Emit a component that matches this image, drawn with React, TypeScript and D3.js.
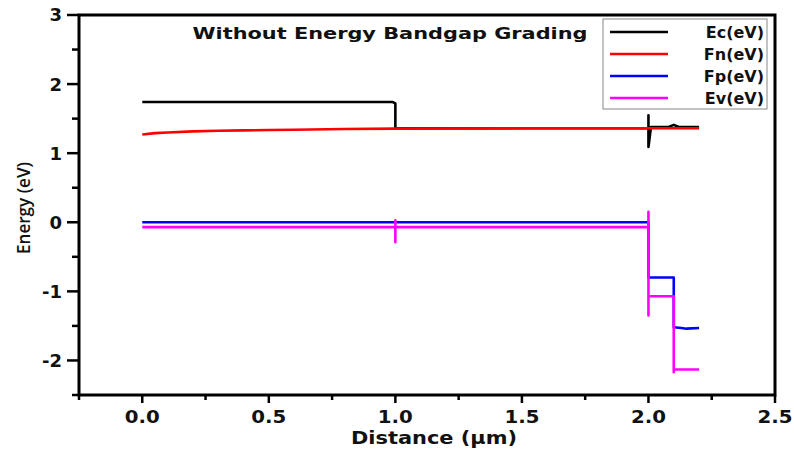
import React from "react";
import * as d3 from "d3";

const ecX = [0, 0.99, 1.0, 1.0, 1.005, 1.99, 2.0, 2.0, 2.0, 2.01, 2.08, 2.1, 2.12, 2.2];
const ecY = [1.74, 1.74, 1.72, 1.36, 1.36, 1.36, 1.36, 1.55, 1.09, 1.38, 1.38, 1.41, 1.38, 1.38];

const fnX = [0, 0.05, 0.1, 0.2, 0.3, 0.4, 0.5, 0.6, 0.8, 1.0, 1.5, 2.0, 2.2];
const fnY = [1.27, 1.29, 1.3, 1.315, 1.325, 1.33, 1.335, 1.34, 1.35, 1.355, 1.36, 1.36, 1.36];

const fpX = [0, 2.0, 2.0, 2.1, 2.1, 2.13, 2.15, 2.2];
const fpY = [0, 0, -0.8, -0.8, -1.52, -1.53, -1.54, -1.53];

const evX = [0, 1.0, 1.0, 1.0, 1.0, 2.0, 2.0, 2.0, 2.0, 2.1, 2.1, 2.1, 2.2];
const evY = [-0.07, -0.07, 0.03, -0.29, -0.07, -0.07, 0.15, -1.35, -1.07, -1.07, -2.17, -2.13, -2.13];

const seriesNames = ["Ec(eV)", "Fn(eV)", "Fp(eV)", "Ev(eV)"];
const seriesColors = ["#000000", "#ff0000", "#0000ff", "#ff00ff"];

const xMajorTicks = [0, 0.5, 1.0, 1.5, 2.0, 2.5];
const xMinorTicks = [-0.25, 0.25, 0.75, 1.25, 1.75, 2.25];
const yMajorTicks = [3, 2, 1, 0, -1, -2];
const yMinorTicks = [2.5, 1.5, 0.5, -0.5, -1.5, -2.5];

const titleText = "Without Energy Bandgap Grading";
const xLabel = "Distance (\u03bcm)";
const yLabel = "Energy (eV)";

export default function App() {
  const W = 794, H = 454;
  const L = 79, R = 775, T = 15, B = 395;
  const x = d3.scaleLinear().domain([-0.25, 2.5]).range([L, R]);
  const y = d3.scaleLinear().domain([-2.5, 3]).range([B, T]);
  const line = d3.line<[number, number]>().x(d => x(d[0])).y(d => y(d[1]));
  const series = [
    ecX.map((v, i) => [v, ecY[i]] as [number, number]),
    fnX.map((v, i) => [v, fnY[i]] as [number, number]),
    fpX.map((v, i) => [v, fpY[i]] as [number, number]),
    evX.map((v, i) => [v, evY[i]] as [number, number]),
  ];
  const fmt = d3.format(".1f");
  const font = "'DejaVu Sans', sans-serif";
  return (
    <svg width={W} height={H} style={{ position: "absolute", left: 0, top: 0, background: "#fff" }}>
      <rect x={0} y={0} width={W} height={H} fill="#fff" />
      {series.map((s, i) => (
        <path key={i} d={line(s) || ""} fill="none" stroke={seriesColors[i]} strokeWidth={2.6} strokeLinejoin="round" />
      ))}
      {/* frame */}
      <rect x={L} y={T} width={R - L} height={B - T} fill="none" stroke="#000" strokeWidth={3} />
      {/* y ticks */}
      {yMajorTicks.map(t => (
        <g key={"ym" + t}>
          <line x1={L - 12} x2={L} y1={y(t)} y2={y(t)} stroke="#000" strokeWidth={2.5} />
          <text x={L - 17} y={y(t)} dy="0.36em" textAnchor="end" fontFamily={font} fontWeight="bold" fontSize={18} fill="#111">{t}</text>
        </g>
      ))}
      {yMinorTicks.map(t => (
        <line key={"yn" + t} x1={L - 7} x2={L} y1={y(t)} y2={y(t)} stroke="#000" strokeWidth={2.5} />
      ))}
      {/* x ticks */}
      {xMajorTicks.map(t => (
        <g key={"xm" + t}>
          <line x1={x(t)} x2={x(t)} y1={B} y2={B + 8} stroke="#000" strokeWidth={2.5} />
          <text x={x(t)} y={423} textAnchor="middle" fontFamily={font} fontWeight="bold" fontSize={18} fill="#111" textLength={35} lengthAdjust="spacingAndGlyphs">{fmt(t)}</text>
        </g>
      ))}
      {xMinorTicks.map(t => (
        <line key={"xn" + t} x1={x(t)} x2={x(t)} y1={B} y2={B + 5} stroke="#000" strokeWidth={2.5} />
      ))}
      {/* axis labels */}
      <text x={434} y={444} textAnchor="middle" fontFamily={font} fontWeight="bold" fontSize={17} fill="#111" textLength={166} lengthAdjust="spacingAndGlyphs">{xLabel}</text>
      <text transform="translate(30,208) rotate(-90)" textAnchor="middle" fontFamily="'Open Sans', sans-serif" fontWeight={600} fontSize={18} fill="#111" textLength={92} lengthAdjust="spacingAndGlyphs">{yLabel}</text>
      {/* title */}
      <text x={390} y={39} textAnchor="middle" fontFamily={font} fontWeight="bold" fontSize={16} fill="#111" textLength={395} lengthAdjust="spacingAndGlyphs">{titleText}</text>
      {/* legend */}
      <rect x={603} y={19} width={164} height={90} fill="#fff" stroke="#888" strokeWidth={1} />
      {seriesNames.map((n, i) => {
        const ly = 32 + i * 22;
        return (
          <g key={n}>
            <line x1={610} x2={668} y1={ly} y2={ly} stroke={seriesColors[i]} strokeWidth={2.6} />
            <text x={764} y={ly} dy="0.36em" textAnchor="end" fontFamily={font} fontWeight="bold" fontSize={16} fill="#111">{n}</text>
          </g>
        );
      })}
    </svg>
  );
}
